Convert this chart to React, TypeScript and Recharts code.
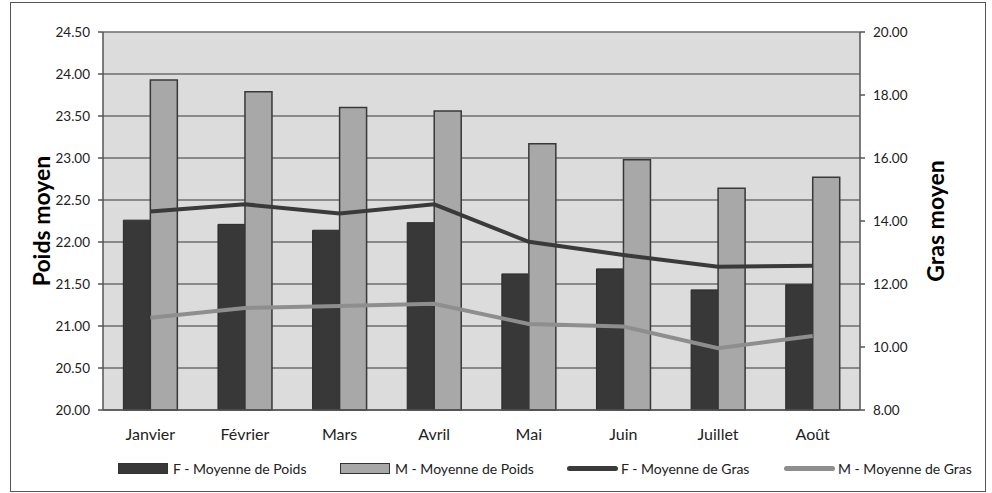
import { ComposedChart, Bar, Line, XAxis, YAxis, CartesianGrid } from "recharts"

const months = ["Janvier", "Février", "Mars", "Avril", "Mai", "Juin", "Juillet", "Août"]
const poidsF = [22.26, 22.21, 22.14, 22.23, 21.62, 21.68, 21.43, 21.49]
const poidsM = [23.93, 23.79, 23.60, 23.56, 23.17, 22.98, 22.64, 22.77]
const grasF = [14.30, 14.53, 14.24, 14.53, 13.34, 12.92, 12.55, 12.58]
const grasM = [10.93, 11.24, 11.30, 11.37, 10.73, 10.65, 9.96, 10.35]

const poidsTicks = [20, 20.5, 21, 21.5, 22, 22.5, 23, 23.5, 24, 24.5]
const grasTicks = [8, 10, 12, 14, 16, 18, 20]

const legendItems = [
  { name: "F - Moyenne de Poids", kind: "bar", color: "#383838", x: 118 },
  { name: "M - Moyenne de Poids", kind: "bar", color: "#a8a8a8", x: 340 },
  { name: "F - Moyenne de Gras", kind: "line", color: "#3a3a3a", x: 567 },
  { name: "M - Moyenne de Gras", kind: "line", color: "#8e8e8e", x: 784 },
]

const font = "Lato, 'Open Sans', sans-serif"

export default function App() {
  const data = months.map((month, i) => ({
    month,
    poidsF: poidsF[i],
    poidsM: poidsM[i],
    grasF: grasF[i],
    grasM: grasM[i],
  }))

  const tickStyle = { fill: "#222", fontSize: 13.5, fontFamily: font }
  const axisTitle = { fill: "#000", fontSize: 23, fontWeight: 700, fontFamily: font }

  return (
    <div style={{ position: "absolute", left: 0, top: 0, width: 992, height: 493, background: "#fff" }}>
      <div
        style={{
          position: "absolute",
          left: 10,
          top: 2,
          width: 974,
          height: 488,
          border: "1.5px solid #555",
        }}
      />
      <div style={{ position: "absolute", left: 0, top: 0 }}>
        <ComposedChart
          width={992}
          height={493}
          data={data}
          margin={{ top: 32, right: 0, bottom: 43, left: 0 }}
          barCategoryGap="21.5%"
          barGap={0}
        >
          <CartesianGrid
            yAxisId="left"
            vertical={false}
            stroke="#6e6e6e"
            strokeWidth={1.5}
            fill="#dcdcdc"
            fillOpacity={1}
          />
          <XAxis
            dataKey="month"
            height={40}
            tickLine={false}
            axisLine={{ stroke: "#555", strokeWidth: 1.5 }}
            tick={{ fill: "#222", fontSize: 16, fontFamily: font }}
            tickMargin={13}
            interval={0}
          />
          <YAxis
            yAxisId="left"
            width={103}
            domain={[20, 24.5]}
            ticks={poidsTicks}
            tickFormatter={(v) => v.toFixed(2)}
            tick={tickStyle}
            tickSize={5}
            tickMargin={8}
            tickLine={{ stroke: "#555", strokeWidth: 1.5 }}
            axisLine={{ stroke: "#555", strokeWidth: 1.5 }}
            label={{ value: "Poids moyen", angle: -90, position: "center", dx: -10, style: axisTitle }}
          />
          <YAxis
            yAxisId="right"
            orientation="right"
            width={132}
            domain={[8, 20]}
            ticks={grasTicks}
            tickFormatter={(v) => v.toFixed(2)}
            tick={tickStyle}
            tickSize={5}
            tickMargin={8}
            tickLine={{ stroke: "#555", strokeWidth: 1.5 }}
            axisLine={{ stroke: "#555", strokeWidth: 1.5 }}
            label={{ value: "Gras moyen", angle: -90, position: "center", dx: 10, style: axisTitle }}
          />
          <Bar
            yAxisId="left"
            dataKey="poidsF"
            fill="#383838"
            stroke="#2a2a2a"
            strokeWidth={1}
            isAnimationActive={false}
          />
          <Bar
            yAxisId="left"
            dataKey="poidsM"
            fill="#a8a8a8"
            stroke="#383838"
            strokeWidth={1.5}
            isAnimationActive={false}
          />
          <Line
            yAxisId="right"
            dataKey="grasF"
            stroke="#3a3a3a"
            strokeWidth={4}
            dot={false}
            isAnimationActive={false}
          />
          <Line
            yAxisId="right"
            dataKey="grasM"
            stroke="#8e8e8e"
            strokeWidth={4}
            dot={false}
            isAnimationActive={false}
          />
        </ComposedChart>
      </div>
      {legendItems.map((item) => (
        <div
          key={item.name}
          style={{
            position: "absolute",
            left: item.x,
            top: 458,
            height: 20,
            display: "flex",
            alignItems: "center",
            fontFamily: font,
            fontSize: 14,
            color: "#222",
            whiteSpace: "nowrap",
          }}
        >
          {item.kind === "bar" ? (
            <span
              style={{
                display: "inline-block",
                width: 48,
                height: 9,
                background: item.color,
                border: "1px solid #333",
                marginRight: 5,
              }}
            />
          ) : (
            <span
              style={{
                display: "inline-block",
                width: 51,
                height: 5,
                borderRadius: 3,
                background: item.color,
                marginRight: 3,
              }}
            />
          )}
          <span>{item.name}</span>
        </div>
      ))}
    </div>
  )
}
